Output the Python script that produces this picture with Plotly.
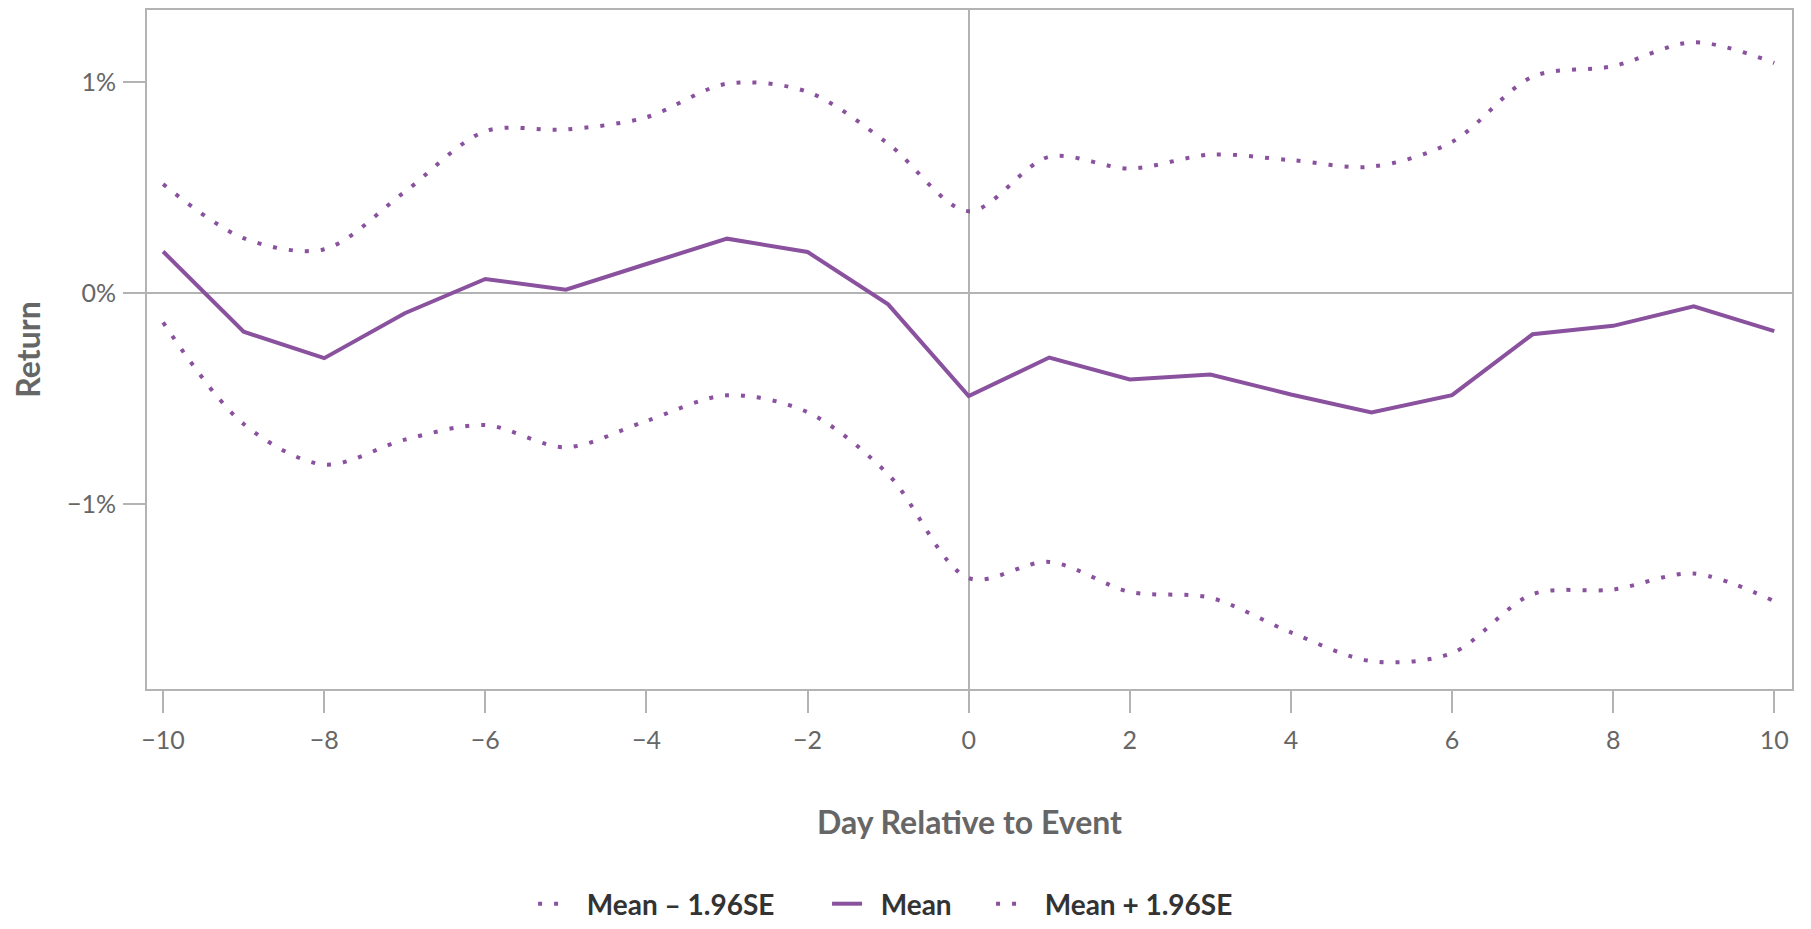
import plotly.graph_objects as go

days = list(range(-10, 11))
mean = [0.197, -0.183, -0.308, -0.095, 0.067, 0.016, 0.138, 0.258, 0.195, -0.053, -0.488,
        -0.305, -0.409, -0.386, -0.48, -0.565, -0.483, -0.195, -0.155, -0.062, -0.18]
upper = [0.516, 0.26, 0.208, 0.48, 0.767, 0.775, 0.833, 0.992, 0.953, 0.708, 0.388,
         0.646, 0.59, 0.656, 0.63, 0.599, 0.716, 1.025, 1.075, 1.188, 1.09]
lower = [-0.139, -0.62, -0.812, -0.694, -0.625, -0.73, -0.605, -0.484, -0.564, -0.858, -1.35,
         -1.273, -1.415, -1.443, -1.607, -1.743, -1.705, -1.426, -1.404, -1.328, -1.459]

series_names = ["Mean\u00a0\u2013\u00a01.96SE", "Mean", "Mean\u00a0+\u00a01.96SE"]
y_tickvals = [-1, 0, 1]
y_ticktext = ["−1%", "0%", "1%"]
x_tickvals = list(range(-10, 11, 2))
x_ticktext = [str(v).replace("-", "−") for v in x_tickvals]

PURPLE = "#8a529e"
GRAY = "#b3b3b3"
FONT = "Lato, Open Sans, sans-serif"
PAD = "\u00a0\u00a0"

fig = go.Figure()
fig.add_trace(go.Scatter(x=days, y=lower, name=PAD + series_names[0], mode="lines", legend="legend",
                         line=dict(color=PURPLE, width=4, dash="4px,12px", shape="spline", smoothing=0.9)))
fig.add_trace(go.Scatter(x=days, y=mean, name=PAD + series_names[1], mode="lines", legend="legend2",
                         line=dict(color=PURPLE, width=4)))
fig.add_trace(go.Scatter(x=days, y=upper, name=PAD + series_names[2], mode="lines", legend="legend3",
                         line=dict(color=PURPLE, width=4, dash="4px,12px", shape="spline", smoothing=0.9)))

legend_font = dict(family=FONT, size=28, color="#333333", weight="bold")
leg_common = dict(orientation="h", y=-0.3168, yanchor="middle", xanchor="left",
                  font=legend_font, bgcolor="rgba(0,0,0,0)")

fig.update_layout(
    width=1803, height=921,
    margin=dict(l=139, r=19, t=0, b=236),
    paper_bgcolor="white", plot_bgcolor="white",
    font=dict(family=FONT, color="#666666", size=25),
    showlegend=True,
    legend=dict(x=0.2347, **leg_common),
    legend2=dict(x=0.4134, **leg_common),
    legend3=dict(x=0.5131, **leg_common),
    xaxis=dict(range=[-10.2, 10.22], tickvals=x_tickvals, ticktext=x_ticktext,
               showgrid=False, zeroline=True, zerolinecolor=GRAY, zerolinewidth=2,
               showline=True, linecolor=GRAY, linewidth=2, mirror=True,
               ticks="outside", ticklen=22, tickwidth=2, tickcolor=GRAY,
               tickfont=dict(size=25, color="#666666"), ticklabelstandoff=6,
               title=dict(text="<b>Day Relative to Event</b>", font=dict(size=32, color="#666666"), standoff=59)),
    yaxis=dict(range=[-1.875, 1.341], tickvals=y_tickvals, ticktext=y_ticktext,
               showgrid=False, zeroline=True, zerolinecolor=GRAY, zerolinewidth=2,
               showline=True, linecolor=GRAY, linewidth=2, mirror=True,
               ticks="outside", ticklen=22, tickwidth=2, tickcolor=GRAY,
               tickfont=dict(size=25, color="#666666"), ticklabelstandoff=2,
               title=dict(text="<b>Return</b>", font=dict(size=32, color="#666666"), standoff=34)),
)

fig.write_html("out.html")
